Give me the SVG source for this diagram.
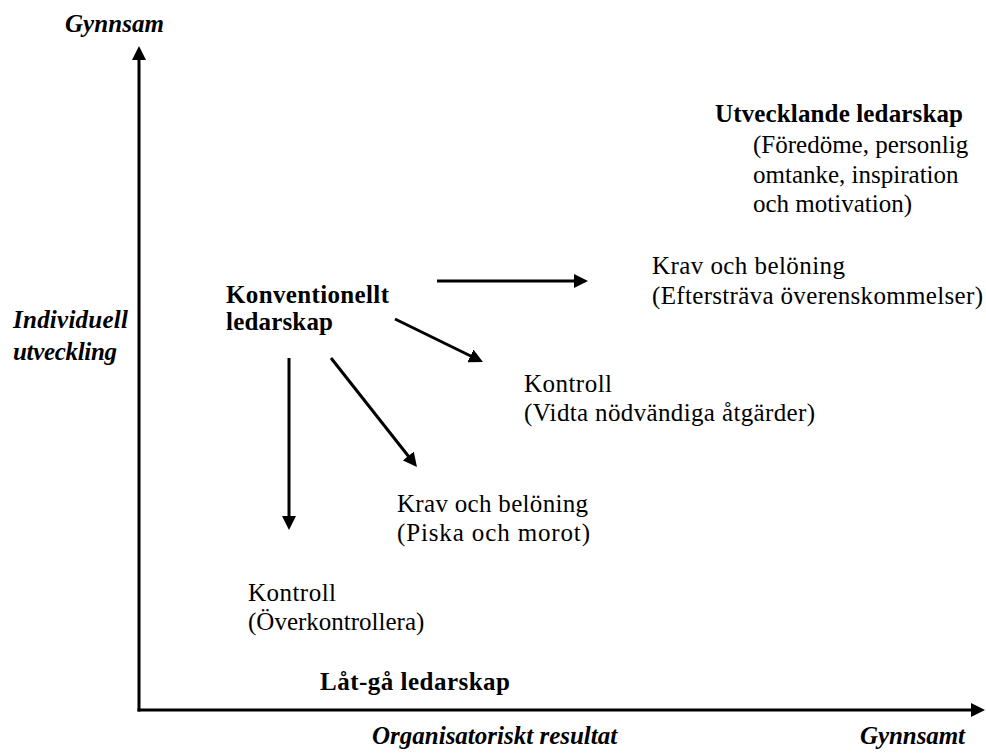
<svg xmlns="http://www.w3.org/2000/svg" width="986" height="753" viewBox="0 0 986 753">
<style>
text{font-family:"Liberation Serif","Times New Roman",serif;font-size:25px;fill:#000}
.b{font-weight:bold}
.bi{font-weight:bold;font-style:italic}
.ln{stroke:#000;stroke-width:3;fill:none}
</style>
<defs>
<marker id="ah" viewBox="0 0 14 14" refX="6" refY="7" markerWidth="14" markerHeight="14" markerUnits="userSpaceOnUse" orient="auto">
<path d="M0,0 L14,7 L0,14 z" fill="#000"/>
</marker>
</defs>
<rect width="986" height="753" fill="#fff"/>
<g id="connectors">
<line class="ln" x1="139" y1="711.5" x2="139" y2="54" marker-end="url(#ah)"/>
<line class="ln" x1="137.5" y1="710" x2="977" y2="710" marker-end="url(#ah)"/>
<line class="ln" x1="437" y1="281" x2="580" y2="281" marker-end="url(#ah)"/>
<line class="ln" x1="395" y1="319" x2="475.8" y2="358.5" marker-end="url(#ah)"/>
<line class="ln" x1="331" y1="358" x2="412" y2="460.7" marker-end="url(#ah)"/>
<line class="ln" x1="289" y1="358" x2="289" y2="522" marker-end="url(#ah)"/>
</g>
<g id="axis-y-top"><text class="bi" x="65" y="32" textLength="99">Gynnsam</text></g>
<g id="axis-y-label">
<text class="bi" x="13" y="328" textLength="115">Individuell</text>
<text class="bi" x="13" y="360" textLength="104">utveckling</text>
</g>
<g id="konventionellt">
<text class="b" x="226" y="303" textLength="163">Konventionellt</text>
<text class="b" x="226" y="330" textLength="107">ledarskap</text>
</g>
<g id="utvecklande">
<text class="b" x="715" y="122" textLength="248">Utvecklande ledarskap</text>
<text x="753" y="153">(Föredöme, personlig</text>
<text x="753" y="183">omtanke, inspiration</text>
<text x="753" y="212">och motivation)</text>
</g>
<g id="krav-overens">
<text x="652" y="274" textLength="193">Krav och belöning</text>
<text x="652" y="304" textLength="331">(Eftersträva överenskommelser)</text>
</g>
<g id="kontroll-vidta">
<text x="524" y="392" textLength="88">Kontroll</text>
<text x="524" y="421" textLength="291">(Vidta nödvändiga åtgärder)</text>
</g>
<g id="krav-piska">
<text x="397" y="512" textLength="191">Krav och belöning</text>
<text x="397" y="541" textLength="193">(Piska och morot)</text>
</g>
<g id="kontroll-over">
<text x="248" y="601" textLength="88">Kontroll</text>
<text x="248" y="630">(Överkontrollera)</text>
</g>
<g id="latga"><text class="b" x="320" y="690" textLength="190">Låt-gå ledarskap</text></g>
<g id="axis-x-label"><text class="bi" x="372" y="744">Organisatoriskt resultat</text></g>
<g id="axis-x-end"><text class="bi" x="860" y="744" textLength="105">Gynnsamt</text></g>
</svg>
